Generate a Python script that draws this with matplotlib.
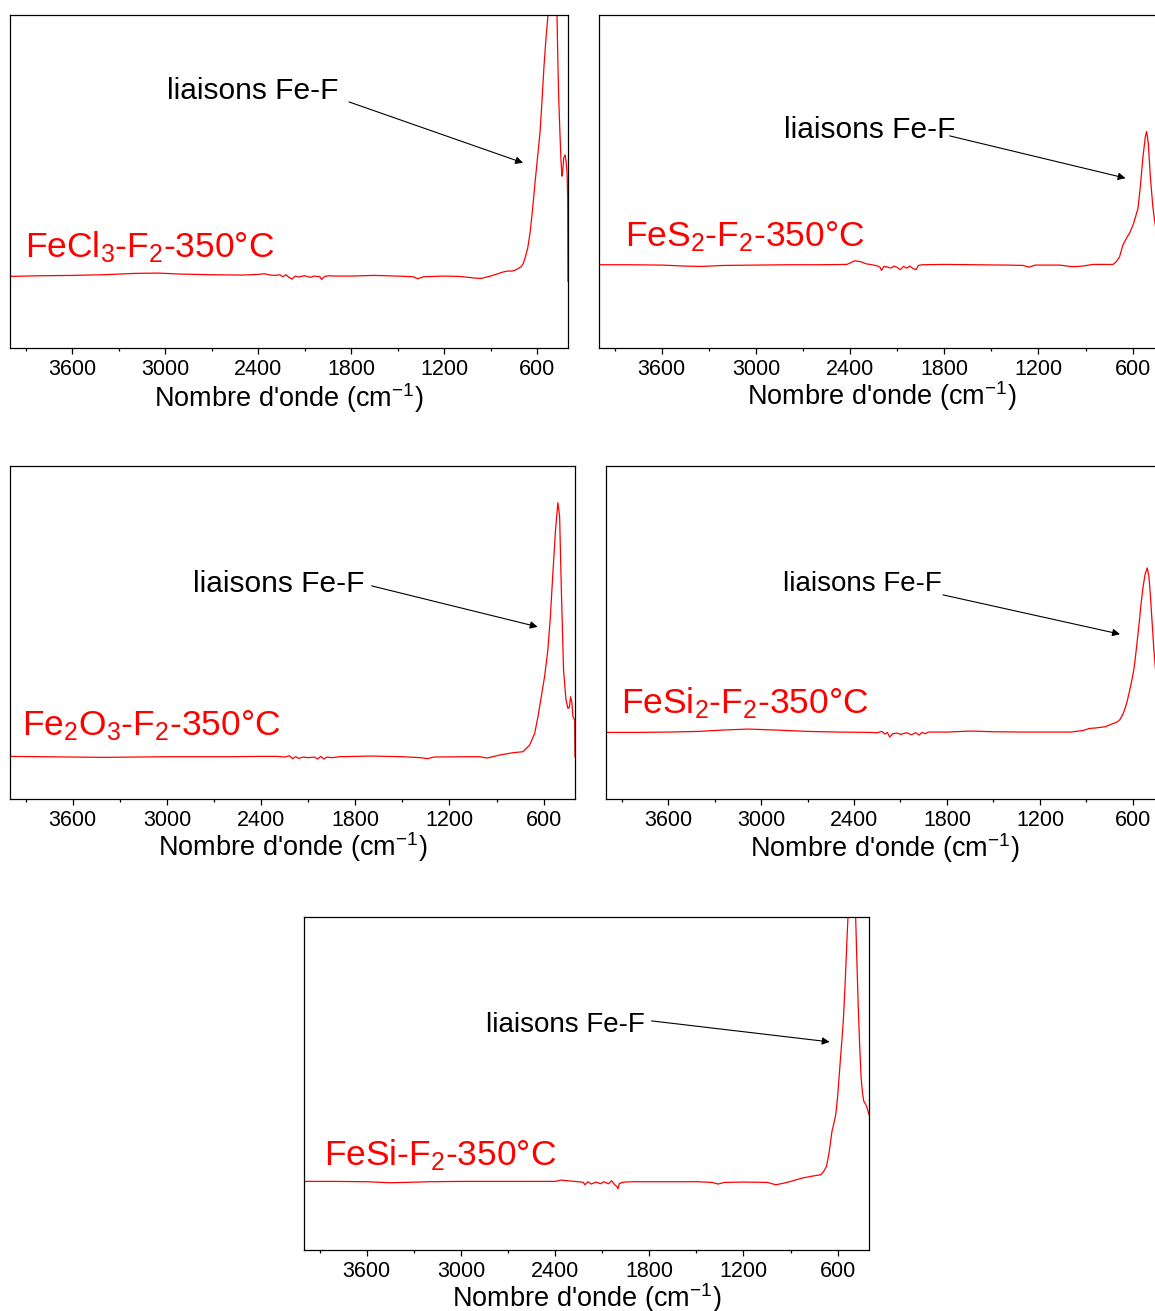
import matplotlib
matplotlib.use("Agg")
import matplotlib.pyplot as plt
from matplotlib.ticker import MultipleLocator, NullLocator

plt.rcParams['font.family'] = ['Liberation Sans', 'DejaVu Sans']
plt.rcParams['mathtext.fontset'] = 'custom'
plt.rcParams['mathtext.rm'] = 'Liberation Sans'
plt.rcParams['mathtext.it'] = 'Liberation Sans:italic'
plt.rcParams['mathtext.bf'] = 'Liberation Sans:bold'

# ---------------- data (wavenumber cm-1, relative absorbance) ----------------
fecl3_wn = [4000, 3800, 3600, 3400, 3200, 3050, 2900, 2700, 2500, 2400, 2360, 2320, 2290,
            2260, 2240, 2220, 2200, 2180, 2160, 2140, 2100, 2060, 2040, 2000, 1990, 1970,
            1940, 1900, 1800, 1650, 1500, 1400, 1370, 1330, 1200, 1100, 1000, 960, 900,
            860, 820, 790, 760, 730, 700, 688, 677, 660, 645, 630, 613, 597, 581, 568, 555,
            542, 529, 515, 500, 485, 471, 465, 460, 452, 445, 439, 434, 428, 419, 412, 406,
            402, 400]
fecl3_ab = [0.215, 0.217, 0.218, 0.220, 0.224, 0.225, 0.222, 0.220, 0.219, 0.221, 0.223, 0.219, 0.218,
            0.220, 0.214, 0.220, 0.212, 0.207, 0.216, 0.213, 0.217, 0.212, 0.216, 0.214, 0.206, 0.215,
            0.217, 0.216, 0.216, 0.218, 0.216, 0.214, 0.208, 0.214, 0.216, 0.215, 0.210, 0.209, 0.216,
            0.222, 0.228, 0.231, 0.231, 0.236, 0.245, 0.255, 0.270, 0.300, 0.345, 0.410, 0.495, 0.570,
            0.645, 0.740, 0.845, 0.930, 1.0, 1.30, 1.35, 1.20, 1.0, 0.85, 0.75, 0.645, 0.560, 0.516,
            0.530, 0.570, 0.580, 0.560, 0.525, 0.450, 0.200]

fes2_wn = [4000, 3800, 3600, 3450, 3350, 3200, 3000, 2800, 2600, 2420, 2370, 2330, 2300,
           2260, 2230, 2210, 2200, 2185, 2160, 2140, 2120, 2100, 2080, 2060, 2040, 2020,
           2000, 1980, 1965, 1940, 1800, 1600, 1400, 1300, 1260, 1220, 1065, 980, 920,
           853, 725, 704, 683, 662, 640, 615, 594, 566, 551, 534, 519, 511, 500, 487, 471,
           460, 440, 400]
fes2_ab = [0.250, 0.250, 0.249, 0.246, 0.245, 0.248, 0.249, 0.250, 0.250, 0.251, 0.262, 0.259, 0.253,
           0.250, 0.247, 0.243, 0.233, 0.245, 0.243, 0.240, 0.246, 0.242, 0.235, 0.245, 0.240, 0.246,
           0.239, 0.235, 0.248, 0.250, 0.251, 0.250, 0.249, 0.248, 0.243, 0.249, 0.249, 0.244, 0.246,
           0.251, 0.251, 0.259, 0.274, 0.309, 0.329, 0.349, 0.374, 0.419, 0.484, 0.574, 0.634, 0.650,
           0.615, 0.514, 0.424, 0.384, 0.320, 0.280]

fe2o3_wn = [4000, 3800, 3600, 3400, 3200, 3000, 2800, 2600, 2400, 2300, 2250, 2220, 2200,
            2180, 2160, 2130, 2100, 2060, 2040, 2020, 2000, 1980, 1950, 1900, 1700, 1500,
            1380, 1340, 1300, 1100, 1008, 960, 880, 795, 732, 689, 657, 636, 615, 594, 573,
            557, 541, 524, 509, 498, 487, 473, 458, 445, 436, 428, 420, 413, 405, 402, 400]
fe2o3_ab = [0.128, 0.127, 0.126, 0.125, 0.126, 0.127, 0.127, 0.127, 0.128, 0.128, 0.126, 0.130, 0.121,
            0.127, 0.122, 0.126, 0.124, 0.126, 0.120, 0.128, 0.120, 0.126, 0.124, 0.127, 0.129, 0.127,
            0.124, 0.121, 0.126, 0.127, 0.127, 0.123, 0.132, 0.139, 0.142, 0.162, 0.197, 0.247, 0.307,
            0.367, 0.447, 0.547, 0.678, 0.808, 0.890, 0.848, 0.628, 0.387, 0.300, 0.272, 0.275, 0.307,
            0.290, 0.247, 0.240, 0.237, 0.127]

fesi2_wn = [4000, 3800, 3600, 3400, 3250, 3082, 2900, 2700, 2500, 2300, 2250, 2220, 2200,
            2185, 2170, 2150, 2120, 2100, 2060, 2030, 2000, 1980, 1960, 1940, 1920, 1800,
            1650, 1500, 1300, 1100, 1000, 920, 880, 847, 780, 720, 700, 685, 665, 651, 637,
            623, 608, 593, 576, 559, 547, 536, 522, 508, 498, 489, 478, 466, 455, 440, 400]
fesi2_ab = [0.200, 0.200, 0.201, 0.203, 0.207, 0.210, 0.207, 0.203, 0.201, 0.200, 0.199, 0.203, 0.195,
            0.200, 0.186, 0.196, 0.198, 0.194, 0.199, 0.193, 0.199, 0.192, 0.200, 0.196, 0.201, 0.201,
            0.204, 0.202, 0.201, 0.201, 0.201, 0.206, 0.212, 0.213, 0.217, 0.228, 0.232, 0.238, 0.255,
            0.272, 0.295, 0.323, 0.355, 0.393, 0.460, 0.534, 0.590, 0.634, 0.675, 0.694, 0.670, 0.620,
            0.540, 0.453, 0.390, 0.330, 0.280]

fesi_wn = [4000, 3800, 3600, 3450, 3350, 3200, 3000, 2800, 2600, 2400, 2362, 2300, 2250,
           2220, 2210, 2190, 2170, 2140, 2110, 2090, 2060, 2040, 2020, 2005, 2000, 1990,
           1960, 1900, 1700, 1500, 1400, 1362, 1320, 1200, 1050, 993, 950, 898, 826, 760,
           707, 690, 671, 655, 636, 624, 612, 600, 588, 576, 564, 552, 540, 529, 515, 500,
           488, 478, 469, 460, 450, 441, 433, 424, 414, 400]
fesi_ab = [0.206, 0.206, 0.205, 0.202, 0.203, 0.205, 0.206, 0.206, 0.206, 0.206, 0.210, 0.207, 0.205,
           0.203, 0.196, 0.205, 0.198, 0.204, 0.199, 0.205, 0.199, 0.208, 0.196, 0.190, 0.184, 0.200,
           0.204, 0.205, 0.205, 0.205, 0.203, 0.198, 0.203, 0.204, 0.203, 0.196, 0.200, 0.206, 0.216,
           0.222, 0.226, 0.235, 0.251, 0.290, 0.356, 0.380, 0.406, 0.460, 0.536, 0.610, 0.686, 0.800,
           0.937, 1.05, 1.35, 1.35, 1.05, 0.880, 0.737, 0.620, 0.516, 0.470, 0.446, 0.440, 0.430, 0.406]

sample_labels = [r'FeCl$_3$-F$_2$-350°C', r'FeS$_2$-F$_2$-350°C', r'Fe$_2$O$_3$-F$_2$-350°C',
                 r'FeSi$_2$-F$_2$-350°C', r'FeSi-F$_2$-350°C']
annot_text = 'liaisons Fe-F'
xlabel_text = r"Nombre d'onde (cm$^{-1}$)"

series = [(fecl3_wn, fecl3_ab), (fes2_wn, fes2_ab), (fe2o3_wn, fe2o3_ab),
          (fesi2_wn, fesi2_ab), (fesi_wn, fesi_ab)]

# ---------------- layout (pixels) ----------------
W, H = 1155, 1311
# left, right, top, bottom in pixels
boxes = [(10, 568, 15, 348), (599, 1164, 15, 348), (10, 575, 466, 799),
         (606, 1164, 466, 799), (304, 869, 917, 1250)]
label_pos = [(3903, 0.273), (3836, 0.306), (3925, 0.192), (3903, 0.258), (3874, 0.255)]
annot_pos = [(2987, 0.748), (2823, 0.631), (2836, 0.622), (2858, 0.625), (2842, 0.655)]
annot_size = [21.5, 21.5, 21.5, 20, 20]
arrow_from = [(1813, 0.739), (1766, 0.637), (1696, 0.640), (1826, 0.613), (1785, 0.688)]
arrow_to = [(690, 0.556), (645, 0.510), (638, 0.517), (684, 0.495), (651, 0.625)]
labelpads = [1.0, -1.0, -1.0, 0.0, -1.0]

fig = plt.figure(figsize=(W / 100, H / 100), dpi=100)

for i, ((wn, ab), (l, r, t, b)) in enumerate(zip(series, boxes)):
    ax = fig.add_axes([l / W, 1 - b / H, (r - l) / W, (b - t) / H])
    ax.plot(wn, ab, color='#ff0000', lw=0.9)
    ax.set_xlim(4000, 400)
    ax.set_ylim(0, 1)
    ax.xaxis.set_major_locator(MultipleLocator(600))
    ax.xaxis.set_minor_locator(MultipleLocator(300))
    ax.yaxis.set_major_locator(NullLocator())
    ax.yaxis.set_minor_locator(NullLocator())
    ax.tick_params(axis='x', which='major', direction='out', length=4.5, width=0.9,
                   labelsize=15.5, pad=3.5)
    ax.tick_params(axis='x', which='minor', direction='out', length=2.5, width=0.9)
    for s in ax.spines.values():
        s.set_linewidth(0.9)
    ax.set_xlabel(xlabel_text, fontsize=19.5, labelpad=labelpads[i])
    ax.text(label_pos[i][0], label_pos[i][1], sample_labels[i], color='#ff0000',
            fontsize=25.5, ha='left', va='baseline')
    ax.text(annot_pos[i][0], annot_pos[i][1], annot_text, color='black',
            fontsize=annot_size[i], ha='left', va='baseline')
    ax.annotate('', xy=arrow_to[i], xytext=arrow_from[i],
                arrowprops=dict(arrowstyle='-|>', color='black', lw=0.8,
                                mutation_scale=11, shrinkA=0, shrinkB=0))

fig.savefig('out.png', dpi=100)
